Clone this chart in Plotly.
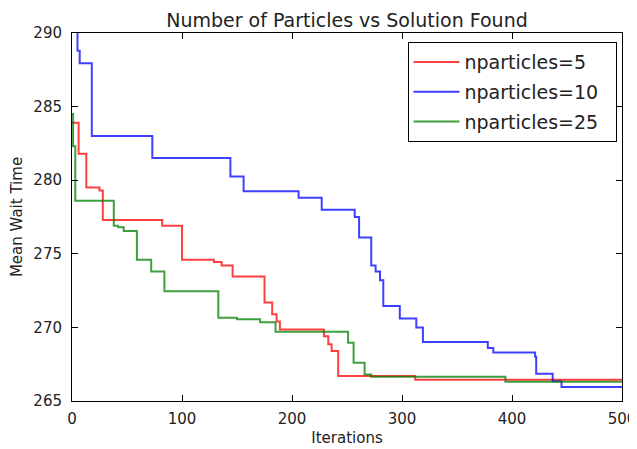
import plotly.graph_objects as go

# Step change-points (iteration, mean wait time)
iters_p5 = [0, 6, 13, 25, 28, 82, 100, 129, 136, 146, 175, 182, 186, 189, 229, 233, 236, 242, 312, 500]
wait_p5 = [283.9, 281.8, 279.5, 279.3, 277.3, 276.9, 274.6, 274.45, 274.2, 273.45, 271.7, 270.9, 270.4,
           269.85, 269.4, 268.85, 268.4, 266.7, 266.45, 266.45]

iters_p10 = [0, 4, 5, 7, 18, 73, 144, 156, 206, 227, 257, 261, 272, 276, 280, 283, 298, 313, 319, 378,
             383, 421, 422, 437, 445, 500]
wait_p10 = [292.0, 290.3, 288.8, 287.95, 283.0, 281.5, 280.25, 279.25, 278.8, 278.0, 277.5, 276.1, 274.2,
            273.8, 273.2, 271.45, 270.6, 270.0, 269.0, 268.6, 268.3, 268.0, 266.85, 266.35, 265.95, 265.95]

iters_p25 = [0, 1, 3, 38, 42, 47, 59, 72, 84, 133, 150, 171, 185, 251, 256, 266, 272, 394, 500]
wait_p25 = [284.5, 282.3, 278.6, 276.9, 276.8, 276.55, 274.6, 273.8, 272.45, 270.65, 270.55, 270.35,
            269.7, 268.95, 267.6, 266.8, 266.65, 266.3, 266.3]

series = [
    ("nparticles=5", iters_p5, wait_p5, "#ff0000"),
    ("nparticles=10", iters_p10, wait_p10, "#0000ff"),
    ("nparticles=25", iters_p25, wait_p25, "#008000"),
]

x_ticks = [0, 100, 200, 300, 400, 500]
y_ticks = [265, 270, 275, 280, 285, 290]

FONT = "DejaVu Sans"
TXT = "#222222"
PAD = "\u00a0\u00a0"  # right padding inside the legend box

fig = go.Figure()
for name, xs, ys, col in series:
    fig.add_trace(go.Scatter(
        x=xs, y=ys, name=name + PAD, mode="lines", legendgroup=name,
        line=dict(color=col, width=2, shape="hv"),
        opacity=0.75,
    ))

axis_common = dict(
    showline=True, linecolor="black", linewidth=1, mirror="ticks",
    ticks="inside", ticklen=6, tickcolor="black", tickwidth=1,
    showgrid=False, zeroline=False, automargin=False,
    tickfont=dict(family=FONT, size=15, color=TXT),
)

# the page body adds an 8px offset, so the figure is sized 8px smaller
fig.update_layout(
    width=629, height=441,
    margin=dict(l=64, r=15, t=25, b=48),
    paper_bgcolor="white", plot_bgcolor="white",
    font=dict(family=FONT, color=TXT),
    title=dict(text="Number of Particles vs Solution Found", xref="paper", x=0.5, xanchor="center",
               y=0.973, yanchor="middle", font=dict(family=FONT, size=19, color=TXT)),
    xaxis=dict(range=[0, 500], tickvals=x_ticks, ticklabelstandoff=4,
               title=dict(text="Iterations", font=dict(family=FONT, size=15, color=TXT), standoff=5),
               **axis_common),
    yaxis=dict(range=[265, 290], tickvals=y_ticks, ticklabelstandoff=6,
               title=dict(text="Mean Wait Time", font=dict(family=FONT, size=15, color=TXT), standoff=8),
               **axis_common),
    legend=dict(x=0.99, y=0.975, xanchor="right", yanchor="top",
                bgcolor="white", bordercolor="black", borderwidth=1,
                itemwidth=46, tracegroupgap=2, traceorder="grouped",
                font=dict(family=FONT, size=19, color=TXT)),
    showlegend=True,
)

fig.write_html("out.html")
